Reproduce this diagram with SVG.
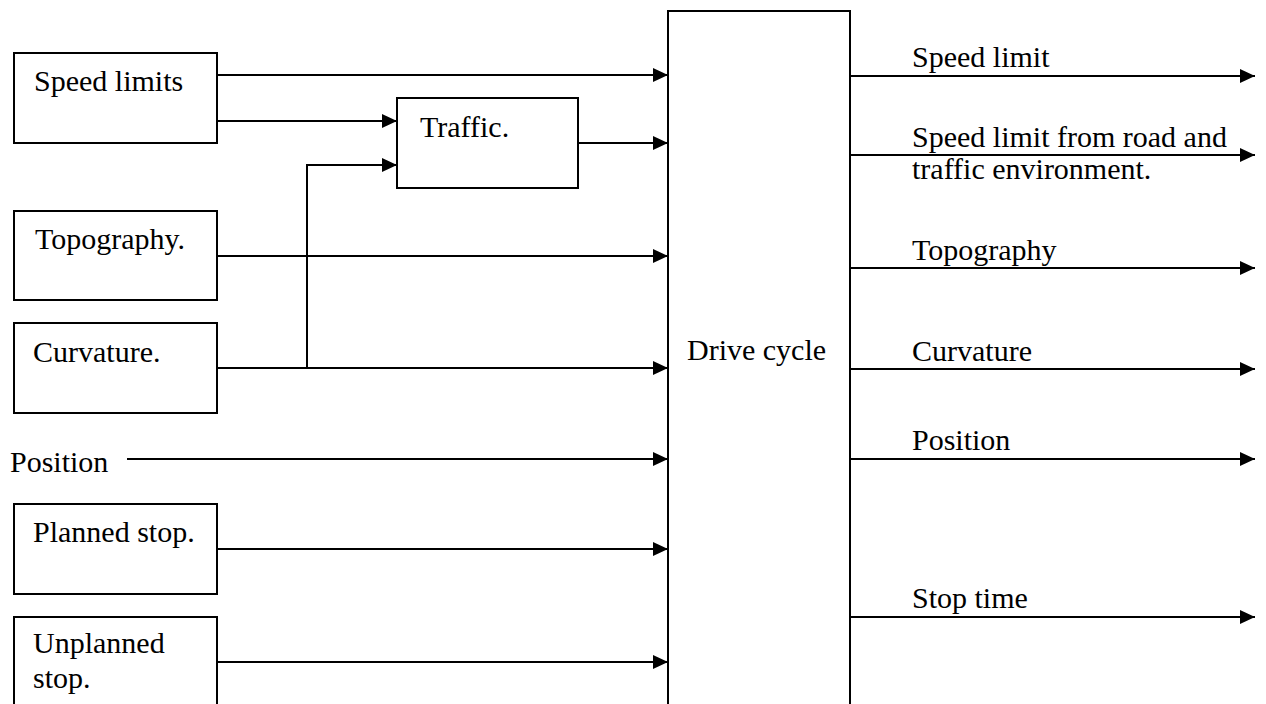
<svg xmlns="http://www.w3.org/2000/svg" width="1266" height="704" viewBox="0 0 1266 704">
<style>
.box{fill:#fff;stroke:#000;stroke-width:2}
.t{font-size:30px;fill:#000}
.c{fill:none;stroke:#000;stroke-width:2}
.a{marker-end:url(#arr)}
</style>
<defs>
<marker id="arr" markerUnits="userSpaceOnUse" markerWidth="15" markerHeight="14" refX="15" refY="7" orient="auto" viewBox="0 0 15 14">
<path d="M0,0 L15,7 L0,14 Z" fill="#000"/>
</marker>
</defs>
<rect width="1266" height="704" fill="#fff"/>
<g id="connectors">
<path class="c a" d="M217,75 H668"/>
<path class="c a" d="M217,121 H397"/>
<path class="c a" d="M307,368 V165 H397"/>
<path class="c a" d="M578,143 H668"/>
<path class="c a" d="M217,256 H668"/>
<path class="c a" d="M217,368 H668"/>
<path class="c a" d="M127,459 H668"/>
<path class="c a" d="M217,549 H668"/>
<path class="c a" d="M217,662 H668"/>
<path class="c a" d="M850,76 H1255"/>
<path class="c a" d="M850,155 H1255"/>
<path class="c a" d="M850,268 H1255"/>
<path class="c a" d="M850,369 H1255"/>
<path class="c a" d="M850,459 H1255"/>
<path class="c a" d="M850,617 H1255"/>
</g>
<g font-family="'Liberation Serif', 'Times New Roman', 'DejaVu Serif', serif">
<g id="speed-limits"><rect class="box" x="14" y="53" width="203" height="90"/><text class="t" x="34" y="91">Speed limits</text></g>
<g id="traffic"><rect class="box" x="397" y="98" width="181" height="90"/><text class="t" x="420" y="137">Traffic.</text></g>
<g id="topography"><rect class="box" x="14" y="211" width="203" height="89"/><text class="t" x="35" y="249">Topography.</text></g>
<g id="curvature"><rect class="box" x="14" y="323" width="203" height="90"/><text class="t" x="33" y="362">Curvature.</text></g>
<g id="position"><text class="t" x="10" y="472">Position</text></g>
<g id="planned-stop"><rect class="box" x="14" y="504" width="203" height="90"/><text class="t" x="33" y="542">Planned stop.</text></g>
<g id="unplanned-stop"><rect class="box" x="14" y="617" width="203" height="100"/><text class="t" x="33" y="653">Unplanned</text><text class="t" x="33" y="688">stop.</text></g>
<g id="drive-cycle"><rect class="box" x="668" y="11" width="182" height="710"/><text class="t" x="687" y="360">Drive cycle</text></g>
<g id="outputs">
<text class="t" x="912" y="67">Speed limit</text>
<text class="t" x="912" y="147">Speed limit from road and</text>
<text class="t" x="912" y="179">traffic environment.</text>
<text class="t" x="912" y="260">Topography</text>
<text class="t" x="912" y="361">Curvature</text>
<text class="t" x="912" y="450">Position</text>
<text class="t" x="912" y="608">Stop time</text>
</g>
</g>
</svg>
